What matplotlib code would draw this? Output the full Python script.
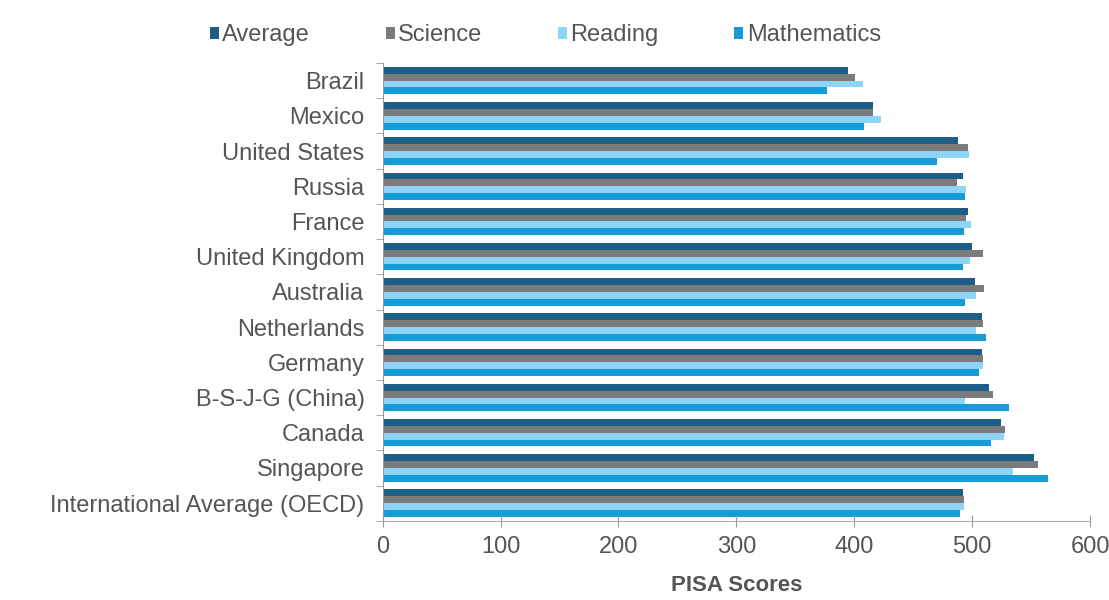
import numpy as np
import matplotlib
matplotlib.use("Agg")
from matplotlib import pyplot as plt

plt.rcParams['font.family'] = ['Liberation Sans', 'DejaVu Sans']

countries = ["Brazil", "Mexico", "United States", "Russia", "France",
             "United Kingdom", "Australia", "Netherlands", "Germany",
             "B-S-J-G (China)", "Canada", "Singapore",
             "International Average (OECD)"]
average = [395, 416, 488, 492, 496, 500, 502, 508, 508, 514, 524, 552, 492]
science = [401, 416, 496, 487, 495, 509, 510, 509, 509, 518, 528, 556, 493]
reading = [407, 423, 497, 495, 499, 498, 503, 503, 509, 494, 527, 535, 493]
maths = [377, 408, 470, 494, 493, 492, 494, 512, 506, 531, 516, 564, 490]

series = [("Average", average, "#1d5e86"),
          ("Science", science, "#7b7b7b"),
          ("Reading", reading, "#8dd4f6"),
          ("Mathematics", maths, "#159bd7")]

fig = plt.figure(figsize=(11.09, 6), dpi=100)
ax = fig.add_axes([0.345, 0.132, 0.638, 0.763])

y = np.arange(len(countries))
h = 0.195
for i, (name, vals, col) in enumerate(series):
    ax.barh(y + (i - 1.5) * h, vals, height=h, color=col, label=name)

ax.set_ylim(len(countries) - 0.5, -0.5)
ax.set_xlim(0, 600)
ax.set_yticks(y)
ax.set_yticklabels(countries, fontsize=17, color="#555555")
ax.set_yticks(np.arange(-0.5, len(countries)), minor=True)
ax.tick_params(axis="y", which="major", length=0, pad=13)
ax.tick_params(axis="y", which="minor", length=5, color="#999999")
ax.set_xticks(range(0, 601, 100))
ax.tick_params(axis="x", labelsize=17, labelcolor="#555555", color="#999999",
               direction="inout", length=8, pad=7)
ax.set_xlabel("PISA Scores", fontsize=16, fontweight="bold", color="#555555", labelpad=12)

for s in ["top", "right"]:
    ax.spines[s].set_visible(False)
ax.spines["left"].set_color("#999999")
ax.spines["bottom"].set_color("#bbaaaa")

ax.legend(loc="lower center", bbox_to_anchor=(0.23, 0.99), ncol=4, frameon=False,
          fontsize=17, handlelength=0.38, handleheight=0.38, handletextpad=0.15,
          columnspacing=3.2, labelcolor="#555555")

fig.savefig("out.png", dpi=100)
